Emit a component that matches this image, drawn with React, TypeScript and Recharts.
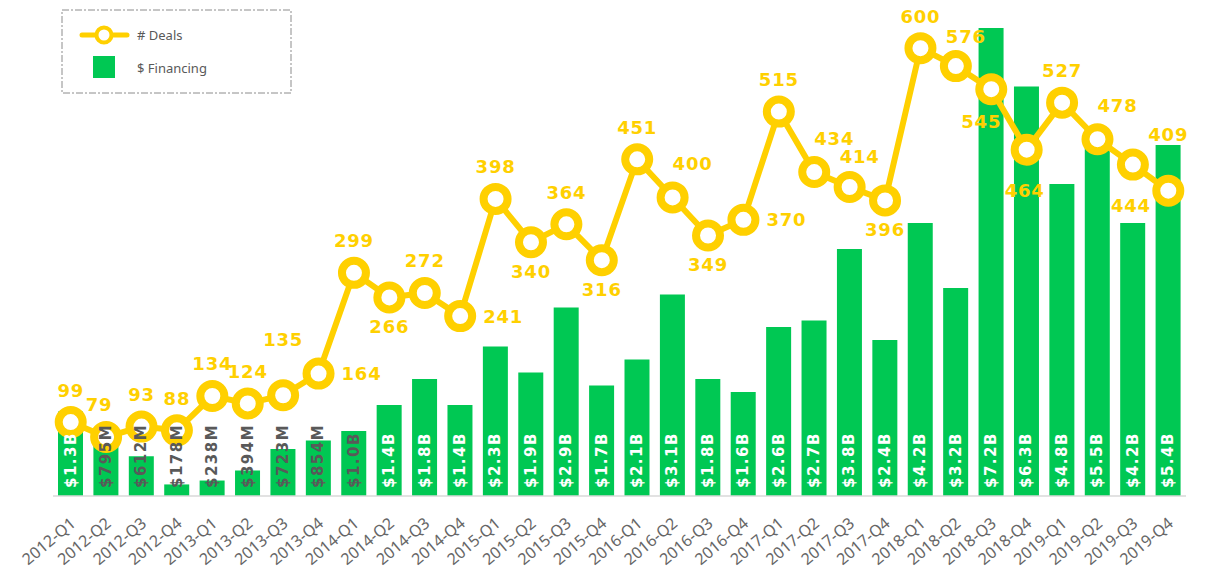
import React from 'react';
import { ComposedChart, Bar, Line, XAxis, YAxis, LabelList } from 'recharts';

const quarters = [
  '2012-Q1', '2012-Q2', '2012-Q3', '2012-Q4',
  '2013-Q1', '2013-Q2', '2013-Q3', '2013-Q4',
  '2014-Q1', '2014-Q2', '2014-Q3', '2014-Q4',
  '2015-Q1', '2015-Q2', '2015-Q3', '2015-Q4',
  '2016-Q1', '2016-Q2', '2016-Q3', '2016-Q4',
  '2017-Q1', '2017-Q2', '2017-Q3', '2017-Q4',
  '2018-Q1', '2018-Q2', '2018-Q3', '2018-Q4',
  '2019-Q1', '2019-Q2', '2019-Q3', '2019-Q4',
];

// $ financing, in billions
const financing = [
  1.3, 0.795, 0.612, 0.178,
  0.238, 0.394, 0.723, 0.854,
  1.0, 1.4, 1.8, 1.4,
  2.3, 1.9, 2.9, 1.7,
  2.1, 3.1, 1.8, 1.6,
  2.6, 2.7, 3.8, 2.4,
  4.2, 3.2, 7.2, 6.3,
  4.8, 5.5, 4.2, 5.4,
];

const deals = [
  99, 79, 93, 88,
  134, 124, 135, 164,
  299, 266, 272, 241,
  398, 340, 364, 316,
  451, 400, 349, 370,
  515, 434, 414, 396,
  600, 576, 545, 464,
  527, 478, 444, 409,
];

// where each deal count label sits relative to its point
const dealLabelSpots = [
  'top', 'topLeft', 'top', 'top',
  'top', 'top', 'high', 'right',
  'top', 'bottom', 'top', 'right',
  'top', 'bottom', 'top', 'bottom',
  'top', 'topRight', 'bottom', 'right',
  'top', 'topRight', 'topSlight', 'bottom',
  'top', 'topSlight', 'bottomLeft', 'low',
  'top', 'topRight', 'low', 'high',
];

const spotOffsets: Record<string, [number, number]> = {
  top: [0, -32],
  topLeft: [-7, -33],
  topSlight: [10, -30],
  topRight: [20, -34],
  high: [0, -56],
  bottom: [0, 29],
  low: [-2, 41],
  bottomLeft: [-10, 32],
  right: [43, 0],
};

const YELLOW = '#FFD000';
const GREEN = '#00C853';
const FONT = '"DejaVu Sans", sans-serif';

const data = quarters.map((q, i) => ({ quarter: q, financing: financing[i], deals: deals[i] }));

const fmtMoney = (v: number) => (v >= 1 ? `$${v.toFixed(1)}B` : `$${Math.round(v * 1000)}M`);

const BarValue = (props: any) => {
  const { x, y, width, height, value } = props;
  const cx = x + width / 2;
  const bottom = y + height - 8;
  return (
    <text
      x={cx}
      y={bottom}
      transform={`rotate(-90 ${cx} ${bottom})`}
      textAnchor="start"
      dominantBaseline="central"
      fontFamily={FONT}
      fontWeight="bold"
      fontSize={15}
      letterSpacing={1.5}
      fill={value <= 1.0 ? '#595959' : '#ffffff'}
    >
      {fmtMoney(value)}
    </text>
  );
};

const DealValue = (props: any) => {
  const { x, y, value, index } = props;
  const [dx, dy] = spotOffsets[dealLabelSpots[index]] || [0, -32];
  return (
    <text
      x={x + dx}
      y={y + dy}
      textAnchor="middle"
      dominantBaseline="central"
      fontFamily={FONT}
      fontWeight="bold"
      fontSize={18}
      letterSpacing={0.8}
      fill={YELLOW}
    >
      {value}
    </text>
  );
};

const QuarterTick = (props: any) => {
  const { x, payload } = props;
  return (
    <g transform={`translate(${x + 6},${525})`}>
      <text
        x={0}
        y={0}
        textAnchor="end"
        transform="rotate(-40)"
        fontFamily='"Noto Sans", sans-serif'
        fontSize={16}
        fill="#666666"
      >
        {payload.value}
      </text>
    </g>
  );
};

const ChartLegend = () => (
  <svg width={232} height={86} style={{ position: 'absolute', left: 61, top: 9 }}>
    <rect x={1} y={1} width={229} height={83} fill="none" stroke="#8c8c8c" strokeWidth={1} strokeDasharray="7 2 2 2" />
    <line x1={21} y1={26} x2={66} y2={26} stroke={YELLOW} strokeWidth={5} strokeLinecap="round" />
    <circle cx={43} cy={26} r={7.5} fill="#fff" stroke={YELLOW} strokeWidth={4} />
    <text x={76} y={26} dominantBaseline="central" fontFamily='"Noto Sans", sans-serif' fontSize={13} fill="#595959">
      # Deals
    </text>
    <rect x={32} y={47} width={22} height={22} fill={GREEN} />
    <text x={76} y={59} dominantBaseline="central" fontFamily='"Noto Sans", sans-serif' fontSize={13} fill="#595959">
      $ Financing
    </text>
  </svg>
);

export default function App() {
  return (
    <div style={{ position: 'absolute', left: 0, top: 0, width: 1209, height: 578, background: '#fff' }}>
      <ComposedChart width={1209} height={578} data={data} margin={{ top: 28, right: 23, left: 53, bottom: 0 }}>
        <XAxis
          dataKey="quarter"
          interval={0}
          height={82}
          tickLine={false}
          tickSize={0}
          axisLine={{ stroke: '#d9d9d9', strokeWidth: 1.5 }}
          tick={<QuarterTick />}
        />
        <YAxis yAxisId="money" hide domain={[0, 7.2]} />
        <YAxis yAxisId="count" hide orientation="right" domain={[0, 627]} />
        <Bar yAxisId="money" dataKey="financing" fill={GREEN} barSize={25} isAnimationActive={false}>
          <LabelList dataKey="financing" content={<BarValue />} />
        </Bar>
        <Line
          yAxisId="count"
          dataKey="deals"
          type="linear"
          stroke={YELLOW}
          strokeWidth={6}
          dot={{ r: 12, fill: '#ffffff', stroke: YELLOW, strokeWidth: 8 }}
          activeDot={false}
          isAnimationActive={false}
        >
          <LabelList dataKey="deals" content={<DealValue />} />
        </Line>
      </ComposedChart>
      <ChartLegend />
    </div>
  );
}
